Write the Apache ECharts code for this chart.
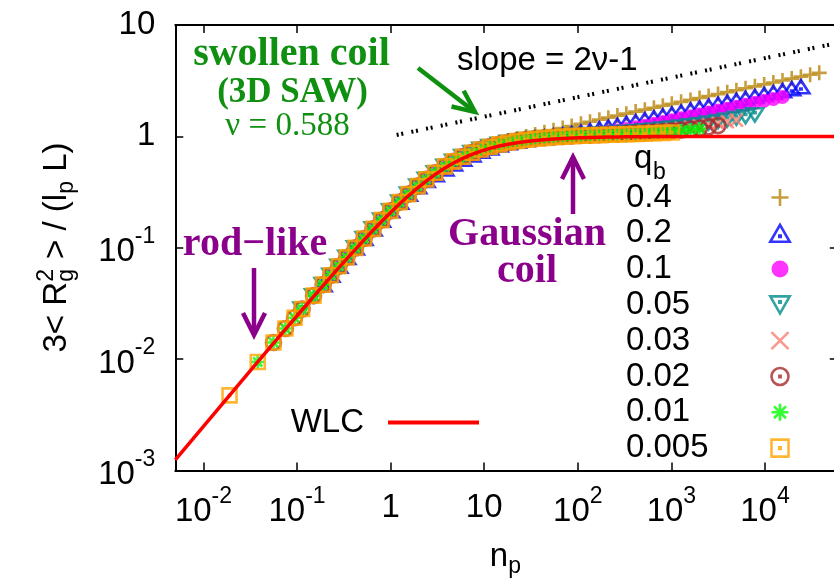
<!DOCTYPE html>
<html>
<head>
<meta charset="utf-8">
<script src="https://cdn.jsdelivr.net/npm/echarts@6/dist/echarts.min.js"></script>
<style>
  html, body { margin: 0; padding: 0; background: #fff; }
  #chart { width: 834px; height: 580px; }
</style>
</head>
<body>
<div id="chart"></div>
<script>
// Axis ranges and tick exponents (log10)
const X_MIN = 0.005, X_MAX = 60000;
const Y_MIN = 0.001, Y_MAX = 10;
const xTickExponents = [-2, -1, 0, 1, 2, 3, 4];
const yTickExponents = [-3, -2, -1, 0, 1];

// Legend entries (q_b values), in key order
const qbNames = ['0.4', '0.2', '0.1', '0.05', '0.03', '0.02', '0.01', '0.005'];

// Simulation points [n_p, 3<Rg^2>/(l_p L)] for each q_b
const q0p4 = [[0.28,0.06824],[0.34,0.08192],[0.42,0.09966],[0.52,0.1211],[0.65,0.1478],[0.8,0.1770],[1.0,0.2145],[1.25,0.2568],[1.55,0.3030],[1.95,0.3577],[2.4,0.4112],[3.0,0.4720],[3.8,0.5383],[4.7,0.5978],[5.9,0.6598],[7.4,0.7182],[9.2,0.7706],[11.5,0.8203],[14.5,0.8682],[18,0.9105],[22.5,0.9532],[28,0.9953],[35,1.0396],[44,1.0872],[55,1.1359],[69,1.1876],[86,1.2398],[108,1.2960],[135,1.3527],[170,1.4136],[212,1.4735],[265,1.5361],[330,1.5999],[415,1.6685],[520,1.7383],[650,1.8098],[810,1.8830],[1010,1.9588],[1270,2.0407],[1600,2.1262],[2000,2.2120],[2500,2.3008],[3150,2.3971],[3950,2.4950],[4950,2.5968],[6200,2.7020],[7800,2.8138],[9800,2.9296],[12300,3.0500],[15400,3.1729],[19300,3.3017],[24200,3.4359],[30400,3.5772],[38000,3.7204]];

const q0p2 = [[0.19,0.04667],[0.23,0.0566],[0.28,0.06824],[0.34,0.08192],[0.42,0.09966],[0.52,0.1211],[0.65,0.1478],[0.8,0.1770],[1.0,0.2145],[1.25,0.2568],[1.55,0.3029],[1.95,0.3539],[2.4,0.4027],[3.0,0.4526],[3.8,0.5105],[4.7,0.5665],[5.9,0.6243],[7.4,0.6817],[9.2,0.7370],[11.5,0.7889],[14.5,0.8377],[18,0.8768],[22.5,0.9112],[28,0.9399],[35,0.9639],[44,0.9873],[55,1.0102],[69,1.0350],[86,1.0618],[108,1.0933],[135,1.1281],[170,1.1686],[212,1.2109],[265,1.2571],[330,1.3054],[415,1.3588],[520,1.4140],[650,1.4709],[810,1.5297],[1010,1.5909],[1270,1.6571],[1600,1.7263],[2000,1.7958],[2500,1.8681],[3150,1.9462],[3950,2.0257],[4950,2.1080],[6200,2.1934],[7800,2.2845],[9800,2.3781],[12300,2.4748],[15400,2.5748],[19300,2.6791],[24200,2.7880]];

const q0p1 = [[0.23,0.0566],[0.28,0.06824],[0.34,0.08192],[0.42,0.09966],[0.52,0.1211],[0.65,0.1478],[0.8,0.1770],[1.0,0.2145],[1.25,0.2568],[1.55,0.3029],[1.95,0.3575],[2.4,0.4109],[3.0,0.4715],[3.8,0.5373],[4.7,0.5963],[5.9,0.6571],[7.4,0.7136],[9.2,0.7631],[11.5,0.8082],[14.5,0.8488],[18,0.8811],[22.5,0.9094],[28,0.9336],[35,0.9542],[44,0.9723],[55,0.9880],[69,1.0028],[86,1.0172],[108,1.0334],[135,1.0514],[170,1.0737],[212,1.0993],[265,1.1298],[330,1.1642],[415,1.2046],[520,1.2485],[650,1.2953],[810,1.3445],[1010,1.3966],[1270,1.4535],[1600,1.5135],[2000,1.5739],[2500,1.6371],[3150,1.7051],[3950,1.7748],[4950,1.8467],[6200,1.9213],[7800,2.0010],[9800,2.0834],[12300,2.1687],[15400,2.2565]];

const q0p05 = [[0.113,0.02818],[0.15,0.03713],[0.19,0.04667],[0.23,0.0566],[0.28,0.06825],[0.34,0.08193],[0.42,0.09968],[0.52,0.1211],[0.65,0.1478],[0.8,0.1771],[1.0,0.2146],[1.25,0.2569],[1.55,0.3031],[1.95,0.3578],[2.4,0.4113],[3.0,0.4720],[3.8,0.5377],[4.7,0.5968],[5.9,0.6578],[7.4,0.7146],[9.2,0.7644],[11.5,0.8098],[14.5,0.8510],[18,0.8839],[22.5,0.9129],[28,0.9371],[35,0.9581],[44,0.9763],[55,0.9916],[69,1.0052],[86,1.0170],[108,1.0285],[135,1.0392],[170,1.0505],[212,1.0617],[265,1.0740],[330,1.0873],[415,1.1028],[520,1.1202],[650,1.1395],[810,1.1613],[1010,1.1857],[1270,1.2143],[1600,1.2464],[2000,1.2805],[2500,1.3179],[3150,1.3602],[3950,1.4051],[4950,1.4530],[6200,1.5038],[7800,1.5592]];

const q0p03 = [[0.075,0.01884],[0.094,0.02353],[0.113,0.02818],[0.15,0.03713],[0.19,0.04667],[0.23,0.0566],[0.28,0.06825],[0.34,0.08193],[0.42,0.09967],[0.52,0.1211],[0.65,0.1478],[0.8,0.1771],[1.0,0.2145],[1.25,0.2568],[1.55,0.3030],[1.95,0.3576],[2.4,0.4111],[3.0,0.4717],[3.8,0.5376],[4.7,0.5966],[5.9,0.6576],[7.4,0.7143],[9.2,0.7640],[11.5,0.8094],[14.5,0.8504],[18,0.8832],[22.5,0.9120],[28,0.9359],[35,0.9565],[44,0.9744],[55,0.9892],[69,1.0021],[86,1.0132],[108,1.0238],[135,1.0335],[170,1.0434],[212,1.0531],[265,1.0636],[330,1.0748],[415,1.0880],[520,1.1025],[650,1.1190],[810,1.1375],[1010,1.1587],[1270,1.1837],[1600,1.2118],[2000,1.2422],[2500,1.2758],[3150,1.3141],[3950,1.3551],[4950,1.3995]];

const q0p02 = [[0.056,0.01412],[0.075,0.01884],[0.094,0.02353],[0.113,0.02818],[0.15,0.03713],[0.19,0.04667],[0.23,0.0566],[0.28,0.06824],[0.34,0.08192],[0.42,0.09966],[0.52,0.1211],[0.65,0.1478],[0.8,0.1770],[1.0,0.2145],[1.25,0.2568],[1.55,0.3029],[1.95,0.3576],[2.4,0.4110],[3.0,0.4716],[3.8,0.5375],[4.7,0.5965],[5.9,0.6574],[7.4,0.7141],[9.2,0.7637],[11.5,0.8089],[14.5,0.8497],[18,0.8823],[22.5,0.9109],[28,0.9345],[35,0.9547],[44,0.9721],[55,0.9863],[69,0.9985],[86,1.0087],[108,1.0182],[135,1.0265],[170,1.0348],[212,1.0426],[265,1.0508],[330,1.0594],[415,1.0693],[520,1.0803],[650,1.0926],[810,1.1067],[1010,1.1230],[1270,1.1424],[1600,1.1648],[2000,1.1892],[2500,1.2170],[3150,1.2489]];

const q0p01 = [[0.038,0.00943],[0.056,0.01412],[0.075,0.01884],[0.094,0.02353],[0.113,0.02818],[0.15,0.03713],[0.19,0.04667],[0.23,0.0566],[0.28,0.06824],[0.34,0.08192],[0.42,0.09966],[0.52,0.1211],[0.65,0.1478],[0.8,0.1770],[1.0,0.2145],[1.25,0.2568],[1.55,0.3029],[1.95,0.3575],[2.4,0.4110],[3.0,0.4716],[3.8,0.5374],[4.7,0.5964],[5.9,0.6573],[7.4,0.7140],[9.2,0.7635],[11.5,0.8087],[14.5,0.8495],[18,0.8820],[22.5,0.9105],[28,0.9340],[35,0.9541],[44,0.9713],[55,0.9853],[69,0.9973],[86,1.0072],[108,1.0162],[135,1.0241],[170,1.0318],[212,1.0389],[265,1.0462],[330,1.0538],[415,1.0625],[520,1.0721],[650,1.0828],[810,1.0952],[1010,1.1093],[1270,1.1265],[1600,1.1463],[2000,1.1683]];

const q0p005 = [[0.019,0.00473],[0.038,0.00943],[0.056,0.01412],[0.075,0.01884],[0.094,0.02353],[0.113,0.02818],[0.15,0.03713],[0.19,0.04667],[0.23,0.0566],[0.28,0.06824],[0.34,0.08192],[0.42,0.09966],[0.52,0.1211],[0.65,0.1478],[0.8,0.1770],[1.0,0.2145],[1.25,0.2568],[1.55,0.3029],[1.95,0.3575],[2.4,0.4109],[3.0,0.4715],[3.8,0.5373],[4.7,0.5962],[5.9,0.6570],[7.4,0.7135],[9.2,0.7629],[11.5,0.8079],[14.5,0.8484],[18,0.8815],[22.5,0.9099],[28,0.9332],[35,0.9531],[44,0.9700],[55,0.9837],[69,0.9952],[86,1.0046],[108,1.0130],[135,1.0200],[170,1.0267],[212,1.0326],[265,1.0385],[330,1.0444],[415,1.0509],[520,1.0579],[650,1.0656],[810,1.0747],[1010,1.0850]];

// Worm-like chain curve [n_p, 3<Rg^2>/(l_p L)]
const wlcCurve = [[0.005,0.0012488],[0.01,0.002495],[0.019,0.004732],[0.038,0.009428],[0.075,0.018472],[0.1,0.024508],[0.15,0.036403],[0.2,0.048065],[0.28,0.066256],[0.38,0.088000],[0.52,0.117570],[0.65,0.143467],[0.8,0.171824],[1.0,0.207274],[1.25,0.248143],[1.55,0.292670],[1.95,0.345389],[2.4,0.397013],[3.0,0.455509],[3.8,0.519139],[4.7,0.576053],[5.9,0.634755],[7.4,0.689367],[9.2,0.737096],[11.5,0.780554],[14.5,0.819672],[18,0.850823],[22.5,0.877992],[28,0.900237],[35,0.919044],[44,0.934847],[55,0.947402],[69,0.957764],[86,0.965918],[108,0.972736],[135,0.978107],[170,0.982561],[212,0.985983],[265,0.988764],[330,0.990964],[415,0.992806],[520,0.994253],[650,0.995399],[810,0.996305],[1010,0.997035],[2000,0.998501],[5000,0.999400],[10000,0.999700],[60000,0.999950]];

// Guide line with slope 2*nu - 1 = 0.176
const slopeGuide = [[1.16, 1.03], [60000, 6.9]];

const SANS = '"Liberation Sans", Arial, sans-serif';
const SERIF = '"Liberation Serif", "Times New Roman", serif';
const GREEN = '#109010';
const PURPLE = '#8b008b';
const FS = 33, FS_SMALL = 23;
const MARK_LW = 2.6;

// Marker shapes
const SYM_PLUS = 'path://M0,8H16M8,0V16';
const SYM_TRI_UP = 'path://M8,0L16,14L0,14Z M7.4,8.8h1.2v1.2h-1.2Z';
const SYM_TRI_DOWN = 'path://M0,0L16,0L8,14Z M7.4,4h1.2v1.2h-1.2Z';
const SYM_CROSS = 'path://M0,0L14,14M14,0L0,14';
const SYM_RING = 'path://M8,0A8,8 0 1,1 7.99,0Z M7.4,7.4h1.2v1.2h-1.2Z';
const SYM_STAR = 'path://M6,0V12M0,6H12M1.8,1.8L10.2,10.2M10.2,1.8L1.8,10.2';
const SYM_SQUARE = 'path://M0,0H14V14H0Z M6.4,6.4h1.2v1.2h-1.2Z';

function isPow10(v, list) {
  const l = Math.log10(v), e = Math.round(l);
  return Math.abs(l - e) < 1e-6 && list.indexOf(e) >= 0 ? e : null;
}

const labelRich = {
  b: { fontSize: FS, lineHeight: 42, verticalAlign: 'bottom', fontFamily: SANS, color: '#000' },
  s: { fontSize: FS_SMALL, height: 20, lineHeight: 20, verticalAlign: 'top', fontFamily: SANS, color: '#000' },
  q: { fontSize: FS, lineHeight: 42, fontFamily: SANS, color: '#000' },
  p: { fontSize: FS, lineHeight: 34, fontFamily: SANS, color: '#000' }
};

function xLabel(v) {
  const e = isPow10(v, xTickExponents);
  if (e === null) return '';
  if (e === 0) return '{q|1}';
  if (e === 1) return '{q|10}';
  return '{b|10}{s|' + e + '}';
}
function yLabel(v) {
  const e = isPow10(v, yTickExponents);
  if (e === null) return '';
  if (e === 0) return '{p|1}';
  if (e === 1) return '{p|10}';
  return '{b|10}{s|' + e + '}';
}

const axisLineStyle = { color: '#000', width: 2 };
const tickStyle = { show: true, inside: true, length: 8, lineStyle: { color: '#000', width: 1.5 } };

function scatter(name, data, symbol, size, color, filled) {
  return {
    type: 'scatter', name: name, data: data,
    symbol: symbol, symbolSize: size, symbolKeepAspect: true,
    itemStyle: filled ? { color: color, borderWidth: 0 }
                      : { color: 'none', borderColor: color, borderWidth: MARK_LW },
    emphasis: { disabled: true }, z: 2
  };
}

// text measuring for composed labels with sub/superscripts
const mctx = document.createElement('canvas').getContext('2d');
function textW(t, size) { mctx.font = size + 'px ' + SANS; return mctx.measureText(t).width; }
function midFromBase(base, size) { return base - 0.3465 * size; }
function txt(t, size, x, base, extra) {
  return Object.assign({
    type: 'text', x: x, y: midFromBase(base, size), silent: true,
    style: { text: t, font: size + 'px ' + SANS, fill: '#000', align: 'left', verticalAlign: 'middle' }
  }, extra || {});
}

// y-axis title: 3< R_g^2 > / (l_p L), rotated
function yTitleChildren() {
  const parts = [];
  let x = 0;
  const put = (t, size, base) => parts.push({ t, size, x, base });
  put('3< R', FS, 0); x += textW('3< R', FS);
  put('2', FS_SMALL, -13); put('g', FS_SMALL, 7);
  x += Math.max(textW('2', FS_SMALL), textW('g', FS_SMALL)) + 1;
  put(' > / (l', FS, 0); x += textW(' > / (l', FS);
  put('p', FS_SMALL, 7); x += textW('p', FS_SMALL);
  put(' L)', FS, 0); x += textW(' L)', FS);
  const total = x;
  return parts.map(p => txt(p.t, p.size, p.x - total / 2, p.base));
}

function serifText(t, cx, base, size, color, bold, align) {
  return {
    type: 'text', x: cx, y: base - 0.3375 * size, silent: true,
    style: { text: t, font: (bold ? 'bold ' : '') + size + 'px ' + SERIF, fill: color,
             align: align || 'center', verticalAlign: 'middle' }
  };
}
function arrow(points, head, color) {
  const st = { stroke: color, lineWidth: 4.5, fill: null, lineJoin: 'miter', lineCap: 'butt' };
  return [
    { type: 'polyline', shape: { points: points }, style: st, silent: true },
    { type: 'polyline', shape: { points: head }, style: st, silent: true }
  ];
}

const nW = textW('n', FS);
const graphics = [
  { type: 'group', x: 68, y: 247.5, rotation: Math.PI / 2, children: yTitleChildren() },
  txt('n', FS, 499 - nW / 2, 568),
  txt('p', FS_SMALL, 499 + nW / 2, 575),
  txt('q', FS, 634, 170),
  txt('b', FS_SMALL, 653, 181),
  txt('slope = 2\u03bd-1', FS, 457, 72),
  serifText('swollen coil', 291.5, 68, 40, GREEN, true),
  serifText('(3D SAW)', 292.5, 105, 35, GREEN, true),
  serifText('\u03bd = 0.588', 287.5, 137, 33, GREEN, false),
  serifText('rod\u2212like', 255, 258, 40, PURPLE, true),
  serifText('Gaussian', 527, 248, 40, PURPLE, true),
  serifText('coil', 527, 285, 40, PURPLE, true)
].concat(
  arrow([[418, 68], [475, 112]], [[451.5, 106.5], [475, 112], [463.7, 90.7]], GREEN),
  arrow([[254, 268], [254, 335]], [[243, 313], [254, 335], [265, 313]], PURPLE),
  arrow([[573, 214], [573, 157]], [[562, 179], [573, 157], [584, 179]], PURPLE)
);

// key entries: open markers get a heavier outline, the filled disc none
const qbLegendData = qbNames.map(n => ({
  name: n, itemStyle: { borderWidth: n === '0.1' ? 0 : MARK_LW }
}));

const chart = echarts.init(document.getElementById('chart'), null, { renderer: 'canvas' });
chart.setOption({
  animation: false,
  backgroundColor: '#fff',
  textStyle: { fontFamily: SANS },
  grid: { left: 175.3, right: -3.8, top: 25, bottom: 109.5, containLabel: false, outerBoundsMode: 'none' },
  xAxis: [
    { type: 'log', min: X_MIN, max: X_MAX, position: 'bottom',
      axisLine: { show: true, lineStyle: axisLineStyle }, axisTick: tickStyle,
      splitLine: { show: false }, minorTick: { show: false },
      axisLabel: { show: true, margin: 16, formatter: xLabel, rich: labelRich, showMinLabel: false, showMaxLabel: false } },
    { type: 'log', min: X_MIN, max: X_MAX, position: 'top',
      axisLine: { show: true, lineStyle: axisLineStyle }, axisTick: tickStyle,
      splitLine: { show: false }, axisLabel: { show: false } }
  ],
  yAxis: [
    { type: 'log', min: Y_MIN, max: Y_MAX, position: 'left',
      axisLine: { show: true, lineStyle: axisLineStyle }, axisTick: tickStyle,
      splitLine: { show: false }, minorTick: { show: false },
      axisLabel: { show: true, margin: 20, formatter: yLabel, rich: labelRich } },
    { type: 'log', min: Y_MIN, max: Y_MAX, position: 'right',
      axisLine: { show: true, lineStyle: axisLineStyle }, axisTick: tickStyle,
      splitLine: { show: false }, axisLabel: { show: false } }
  ],
  legend: [
    { data: qbLegendData, orient: 'vertical', align: 'right', left: 626, top: 181, padding: 0,
      itemWidth: 20, itemHeight: 17, itemGap: 2.8, selectedMode: false,
      formatter: n => '{t|' + n + '}',
      textStyle: { rich: { t: { width: 139, align: 'left', fontSize: FS, lineHeight: 30, fontFamily: SANS, color: '#000' } } } },
    { data: ['WLC'], orient: 'horizontal', align: 'right', right: 355, top: 406, padding: 0,
      itemWidth: 91, itemHeight: 4, icon: 'rect', itemStyle: { borderWidth: 0 }, selectedMode: false,
      formatter: n => '{w|' + n + '}',
      textStyle: { rich: { w: { fontSize: FS, lineHeight: 30, padding: [0, 19, 0, 0], fontFamily: SANS, color: '#000' } } } }
  ],
  series: [
    scatter('0.4', q0p4, SYM_PLUS, 15, '#b8860b', false),
    scatter('0.2', q0p2, SYM_TRI_UP, [17, 15], '#0000ff', false),
    scatter('0.1', q0p1, 'circle', 14, '#ff00ff', true),
    scatter('0.05', q0p05, SYM_TRI_DOWN, [17, 15], '#008b8b', false),
    scatter('0.03', q0p03, SYM_CROSS, 13, '#fa8072', false),
    scatter('0.02', q0p02, SYM_RING, 15, '#a52a2a', false),
    scatter('0.01', q0p01, SYM_STAR, 13, '#00ff00', false),
    scatter('0.005', q0p005, SYM_SQUARE, 14, '#ffa500', false),
    { type: 'line', name: 'WLC', data: wlcCurve, color: '#ff0000', showSymbol: false, symbol: 'none',
      lineStyle: { color: '#ff0000', width: 3.5 }, z: 3, emphasis: { disabled: true } },
    { type: 'line', name: 'slope', data: slopeGuide, showSymbol: false, symbol: 'none',
      lineStyle: { color: '#000', width: 4, type: [2, 2.7, 2, 8.3], cap: 'butt' }, z: 3, emphasis: { disabled: true } }
  ],
  graphic: graphics
});
</script>
</body>
</html>
